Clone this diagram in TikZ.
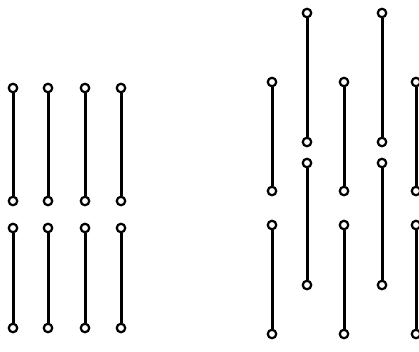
\documentclass[tikz,border=0pt]{standalone}
\begin{document}
\begin{tikzpicture}[x=1pt,y=-1pt,
  pin/.style={circle,draw,fill=white,line width=2.2pt,inner sep=0pt,minimum size=8.5pt},
  rod/.style={line width=3pt}]
\useasboundingbox (0,0) rectangle (419,351);
% left block: two rows of four rods
\foreach \i/\x in {1/13,2/48,3/85,4/121}{
  \node[pin] (ua\i) at (\x,88) {};
  \node[pin] (ub\i) at (\x,201) {};
  \node[pin] (va\i) at (\x,228) {};
  \node[pin] (vb\i) at (\x,328) {};
  \draw[rod] (ua\i) -- (ub\i);
  \draw[rod] (va\i) -- (vb\i);
}
% right block: staggered rods
\foreach \i/\x in {1/272,2/344,3/416}{
  \node[pin] (pa\i) at (\x,82) {};
  \node[pin] (pb\i) at (\x,191) {};
  \node[pin] (qa\i) at (\x,225) {};
  \node[pin] (qb\i) at (\x,334) {};
  \draw[rod] (pa\i) -- (pb\i);
  \draw[rod] (qa\i) -- (qb\i);
}
\foreach \i/\x in {1/307,2/382}{
  \node[pin] (ra\i) at (\x,13) {};
  \node[pin] (rb\i) at (\x,142) {};
  \node[pin] (sa\i) at (\x,163) {};
  \node[pin] (sb\i) at (\x,285) {};
  \draw[rod] (ra\i) -- (rb\i);
  \draw[rod] (sa\i) -- (sb\i);
}
\end{tikzpicture}
\end{document}
